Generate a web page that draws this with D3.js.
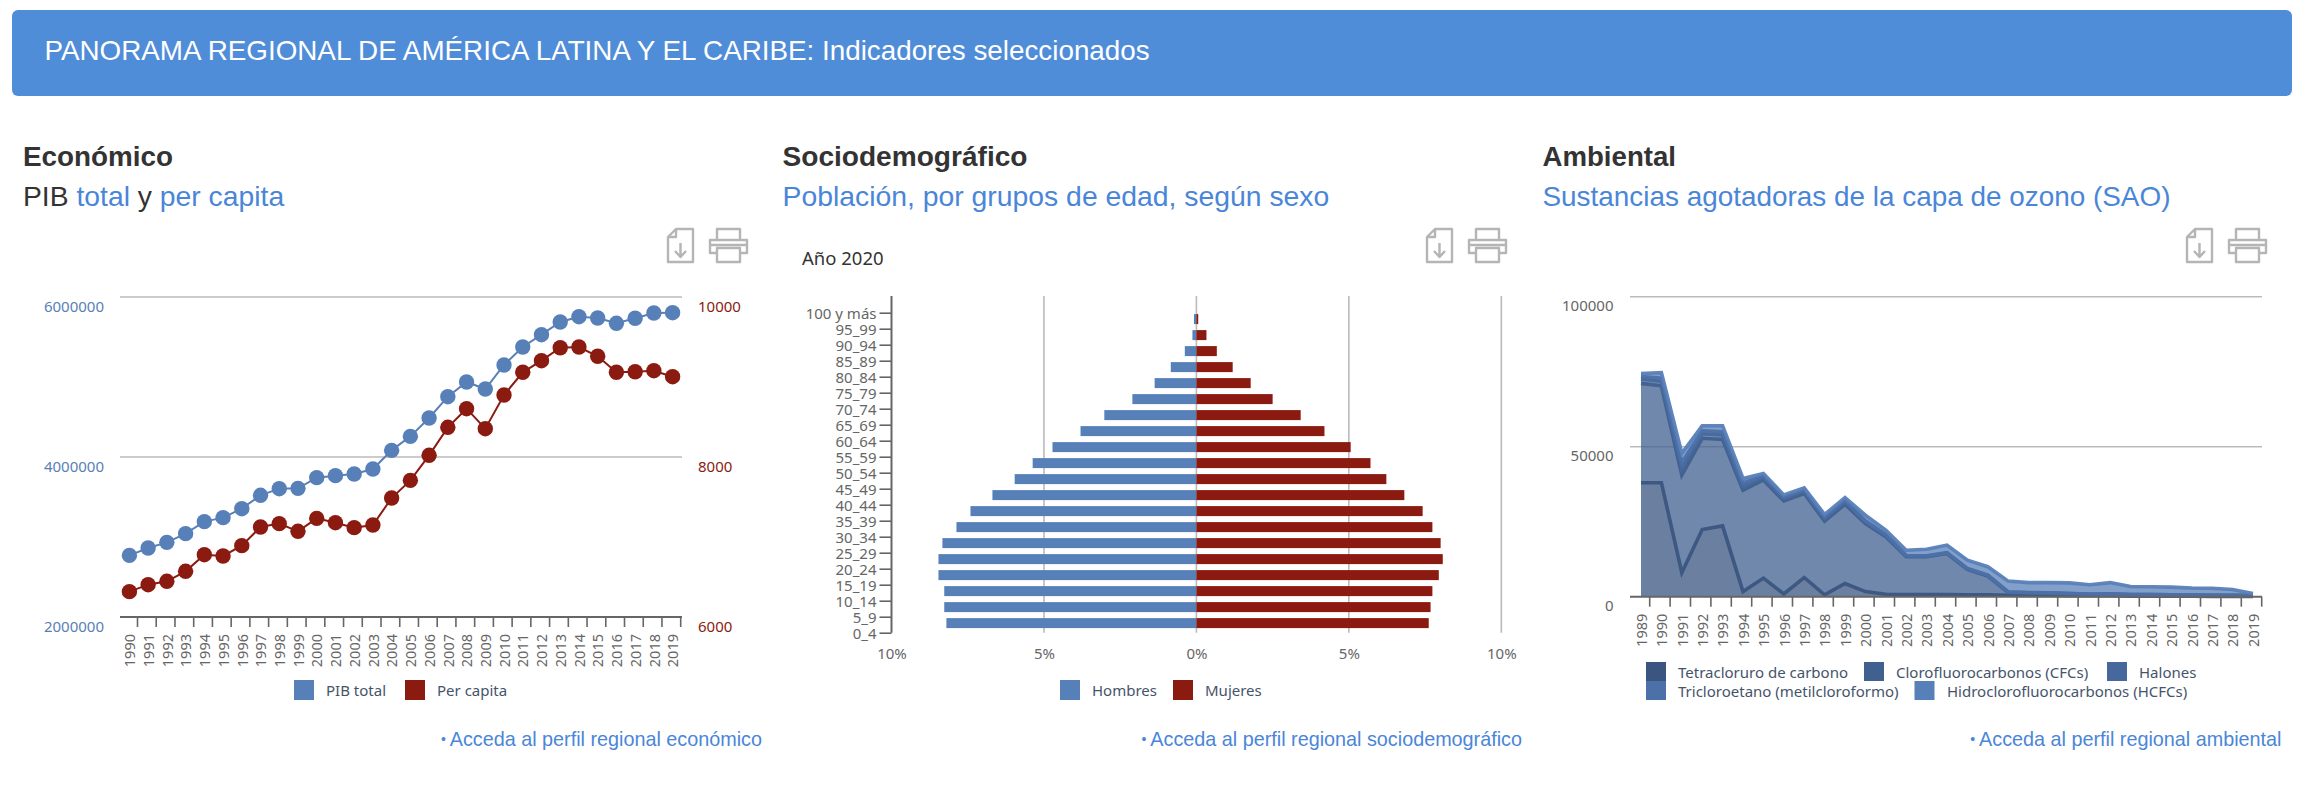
<!DOCTYPE html>
<html lang="es">
<head>
<meta charset="utf-8">
<title>Panorama regional</title>
<script src="https://cdn.jsdelivr.net/npm/d3@7"></script>
<style>
html,body{margin:0;padding:0;background:#fff;}
svg{display:block;}
.head{font-family:"Liberation Sans",Arial,sans-serif;}
.chart text{font-family:"Noto Sans",Tahoma,sans-serif;}
</style>
</head>
<body>
<script>
// chart 1
var years1=d3.range(1990,2020).map(String);
var pibTotal=[2770000,2862000,2933000,3042000,3192000,3242000,3354000,3521000,3604000,3608000,3742000,3767000,3788000,3850000,4083000,4258000,4488000,4754000,4938000,4850000,5150000,5375000,5529000,5687000,5754000,5737000,5671000,5734000,5800000,5804000];
var perCapita=[6317,6404,6446,6571,6779,6763,6892,7125,7167,7071,7233,7179,7117,7150,7487,7708,8021,8371,8604,8354,8775,9059,9204,9366,9375,9259,9059,9066,9079,9004];
// chart 2
var ageGroups=["100 y más","95_99","90_94","85_89","80_84","75_79","70_74","65_69","60_64","55_59","50_54","45_49","40_44","35_39","30_34","25_29","20_24","15_19","10_14","5_9","0_4"];
var hombres=[0.08,0.13,0.38,0.84,1.37,2.10,3.02,3.80,4.72,5.37,5.96,6.69,7.41,7.87,8.33,8.46,8.46,8.27,8.27,8.20];
var mujeres=[0.06,0.33,0.67,1.19,1.78,2.50,3.42,4.20,5.06,5.71,6.23,6.82,7.42,7.74,8.01,8.08,7.95,7.74,7.68,7.62];
var pctTicks=[-10,-5,0,5,10];
// chart 3
var years3=d3.range(1989,2020).map(String);
var tetracloruro=[38000,38000,8000,22400,23600,1700,6200,900,6400,600,4400,1700,800,700,700,700,600,600,500,400,400,300,300,300,200,200,200,200,100,100,100];
var cfcs=[33100,32300,32500,30400,28800,33800,32700,31000,28000,24600,26400,22700,19200,12600,12600,13700,8500,6300,900,800,700,600,400,500,400,400,300,300,300,300,200];
var halones=[1500,1500,2200,1500,1500,1400,900,800,800,800,800,600,500,300,200,200,200,200,100,100,100,100,100,100,100,100,100,100,100,100,100];
var tricloroetano=[800,1000,2000,1000,1100,1000,500,500,400,500,500,300,200,100,100,100,100,100,100,100,100,100,0,0,0,0,0,0,0,0,0];
var hcfcs=[1000,1900,3100,1700,2000,1500,800,700,700,900,900,1900,1500,1800,2200,2500,2800,2800,3600,3300,3400,3500,3200,3800,2700,2600,2600,2300,2300,1900,700];
var saoNames=["Tetracloruro de carbono","Clorofluorocarbonos (CFCs)","Halones","Tricloroetano (metilcloroformo)","Hidroclorofluorocarbonos (HCFCs)"];

var width=2322,height=790;
var blue="#5880b8",red="#8b1a10",grid="#bbbbbb",axisCol="#666666",legendCol="#44546a",linkCol="#4a86d8",ink="#333333";
var saoColors=["#3a5580","#406090","#46689c","#4c70a8","#5880b8"];

var svg=d3.select("body").append("svg").attr("width",width).attr("height",height);

// page header
svg.append("rect").attr("x",12).attr("y",10).attr("width",2280).attr("height",86).attr("rx",6).attr("fill","#508dd8");
svg.append("text").attr("class","head").attr("x",44.5).attr("y",60)
   .attr("font-size",27.8).attr("fill","#fff")
   .text("PANORAMA REGIONAL DE AMÉRICA LATINA Y EL CARIBE: Indicadores seleccionados");

function panelHead(x,title,titleLen,parts,subSize,iconX,link,linkEnd){
    svg.append("text").attr("class","head").attr("x",x).attr("y",165.5)
       .attr("font-size",27.5).attr("font-weight","bold").attr("fill",ink)
       .attr("textLength",titleLen).attr("lengthAdjust","spacingAndGlyphs").text(title);
    var sub=svg.append("text").attr("class","head").attr("x",x).attr("y",206).attr("font-size",subSize);
    parts.forEach(function(p){
        sub.append("tspan").attr("fill",p[1]?linkCol:ink).text(p[0]);
    });
    var a=svg.append("text").attr("class","head").attr("x",linkEnd).attr("y",746)
       .attr("text-anchor","end").attr("font-size",19.8).attr("fill",linkCol);
    a.append("tspan").attr("font-size",14).attr("dy",-2).text("• ");
    a.append("tspan").attr("dy",2).text(link);
    // download + print icons
    var ic=svg.append("g").attr("transform","translate("+iconX+",228)")
        .attr("fill","none").attr("stroke","#b5b5b5").attr("stroke-width",2.4).attr("stroke-linejoin","round");
    ic.append("path").attr("d","M9 1H26V34H1V9Z M9 1V9H1");
    ic.append("path").attr("d","M13.5 15V28 M8 23L13.5 29L19 23");
    ic.append("path").attr("d","M50 12V1H73V12 M50 25H43V12H80V25H73 M43 17H80 M50 20H73V34H50Z");
}

function legendItem(g,x,y,h,w,color,label,tx){
    g.append("rect").attr("x",x).attr("y",y).attr("width",w).attr("height",h).attr("fill",color);
    g.append("text").attr("x",tx).attr("y",y+h/2+1).attr("dy",".35em")
     .attr("font-size",15).attr("fill",legendCol).text(label);
}

// bottom axis with the ticks between the points and upright years
function yearAxis(g,xScale,yBase,left,right,tickOff){
    var ax=g.append("g").attr("transform","translate(0,"+yBase+")")
        .call(d3.axisBottom(xScale).tickSize(10).tickSizeOuter(0));
    ax.select(".domain").remove();
    ax.selectAll(".tick line").attr("x1",tickOff).attr("x2",tickOff).attr("stroke",axisCol).attr("stroke-width",1.6);
    ax.selectAll(".tick text").attr("transform","rotate(-90)")
      .attr("x",-17).attr("y",0).attr("dy",".36em").attr("text-anchor","end")
      .attr("font-size",14.5).attr("fill",axisCol);
    g.append("line").attr("x1",left).attr("x2",right).attr("y1",yBase).attr("y2",yBase)
     .attr("stroke",axisCol).attr("stroke-width",2);
}

function valueLabels(g,axis,x,color){
    var ax=g.append("g").attr("transform","translate("+x+",0)").call(axis);
    ax.select(".domain").remove();
    ax.selectAll(".tick line").remove();
    ax.selectAll(".tick text").attr("x",0).attr("dy",".35em")
      .attr("transform","translate(0,9)").attr("font-size",15).attr("fill",color);
}

// Economico
function drawEconomico(){
    panelHead(23,"Económico",150,[["PIB ",0],["total",1],[" y ",0],["per capita",1]],28.3,667,
              "Acceda al perfil regional económico",762);
    var g=svg.append("g").attr("class","chart");
    var x=d3.scalePoint().domain(years1).range([129.4,672.6]);
    var yL=d3.scaleLinear().domain([2000000,6000000]).range([617,297]);
    var yR=d3.scaleLinear().domain([6000,10000]).range([617,297]);
    [6000000,4000000].forEach(function(v){
        g.append("line").attr("x1",120).attr("x2",682).attr("y1",yL(v)).attr("y2",yL(v))
         .attr("stroke",grid).attr("stroke-width",1.6);
    });
    yearAxis(g,x,617,120,682,7.6);
    valueLabels(g,d3.axisLeft(yL).tickValues([2000000,4000000,6000000]).tickFormat(d3.format("d")).tickPadding(0),104,blue);
    valueLabels(g,d3.axisRight(yR).tickValues([6000,8000,10000]).tickFormat(d3.format("d")).tickPadding(0),698,red);

    function series(vals,y,color){
        var line=d3.line().x(function(d,i){return x(years1[i]);}).y(function(d){return y(d);});
        g.append("path").datum(vals).attr("d",line).attr("fill","none").attr("stroke",color).attr("stroke-width",2);
        g.selectAll(null).data(vals).enter().append("circle")
         .attr("cx",function(d,i){return x(years1[i]);})
         .attr("cy",function(d){return y(d);})
         .attr("r",7.7).attr("fill",color);
    }
    series(pibTotal,yL,blue);
    series(perCapita,yR,red);

    legendItem(g,294,680,20,20,blue,"PIB total",326);
    legendItem(g,405,680,20,20,red,"Per capita",437);
}

// Sociodemografico
function drawSocio(){
    panelHead(782.5,"Sociodemográfico",245,[["Población, por grupos de edad, según sexo",1]],28.35,1426,
              "Acceda al perfil regional sociodemográfico",1522);
    var g=svg.append("g").attr("class","chart");
    g.append("text").attr("x",802).attr("y",265).attr("font-size",18.5).attr("fill",ink).text("Año 2020");
    var x=d3.scaleLinear().domain([-10,10]).range([891.5,1501.3]);
    var y=d3.scalePoint().domain(ageGroups).range([312.7,632.7]);

    pctTicks.slice(1).forEach(function(v){
        g.append("line").attr("x1",x(v)).attr("x2",x(v)).attr("y1",296).attr("y2",632.7)
         .attr("stroke",grid).attr("stroke-width",1.6);
    });
    var ya=g.append("g").attr("transform","translate("+x(-10)+",0)")
        .call(d3.axisLeft(y).tickSize(12).tickSizeOuter(0).tickPadding(3));
    ya.select(".domain").remove();
    ya.selectAll(".tick line").attr("stroke",axisCol).attr("stroke-width",1.6);
    ya.selectAll(".tick text").attr("dy",".38em").attr("font-size",15).attr("fill",axisCol);
    g.append("line").attr("x1",x(-10)).attr("x2",x(-10)).attr("y1",296).attr("y2",632.7)
     .attr("stroke",axisCol).attr("stroke-width",2);

    var xa=g.append("g").attr("transform","translate(0,633)")
        .call(d3.axisBottom(x).tickValues(pctTicks).tickSize(0).tickPadding(0)
                .tickFormat(function(d){return Math.abs(d)+"%";}));
    xa.select(".domain").remove();
    xa.selectAll(".tick text").attr("y",21).attr("dy",".35em").attr("font-size",15).attr("fill",axisCol);

    g.selectAll(null).data(hombres).enter().append("rect")
     .attr("x",function(d){return x(-d);}).attr("y",function(d,i){return y(ageGroups[i])+1.4;})
     .attr("width",function(d){return x(0)-x(-d);}).attr("height",10).attr("fill",blue);
    g.selectAll(null).data(mujeres).enter().append("rect")
     .attr("x",x(0)).attr("y",function(d,i){return y(ageGroups[i])+1.4;})
     .attr("width",function(d){return x(d)-x(0);}).attr("height",10).attr("fill",red);

    legendItem(g,1060,680,20,20,blue,"Hombres",1092);
    legendItem(g,1173,680,20,20,red,"Mujeres",1205);
}

// Ambiental
function drawAmbiental(){
    panelHead(1542.5,"Ambiental",133.5,[["Sustancias agotadoras de la capa de ozono (SAO)",1]],27.9,2186,
              "Acceda al perfil regional ambiental",2281.5);
    var g=svg.append("g").attr("class","chart");
    var x=d3.scalePoint().domain(years3).range([1641,2253]);
    var y=d3.scaleLinear().domain([0,100000]).range([596.7,296.7]);
    [100000,50000].forEach(function(v){
        g.append("line").attr("x1",1630).attr("x2",2262).attr("y1",y(v)).attr("y2",y(v))
         .attr("stroke",grid).attr("stroke-width",1.6);
    });
    valueLabels(g,d3.axisLeft(y).tickValues([0,50000,100000]).tickFormat(d3.format("d")).tickPadding(0),1613.5,axisCol);

    var rows=years3.map(function(yr,i){
        return {year:yr,a:tetracloruro[i],b:cfcs[i],c:halones[i],d:tricloroetano[i],e:hcfcs[i]};
    });
    var layers=d3.stack().keys(["a","b","c","d","e"])(rows);
    var area=d3.area().x(function(d){return x(d.data.year);}).y0(function(d){return y(d[0]);}).y1(function(d){return y(d[1]);});
    var top=d3.line().x(function(d){return x(d.data.year);}).y(function(d){return y(d[1]);});
    g.selectAll(null).data(layers).enter().append("path")
     .attr("d",area).attr("fill",function(d,i){return saoColors[i];}).attr("fill-opacity",0.75);
    g.selectAll(null).data(layers).enter().append("path")
     .attr("d",top).attr("fill","none").attr("stroke",function(d,i){return saoColors[i];})
     .attr("stroke-width",3.6).attr("stroke-opacity",0.95);

    yearAxis(g,x,596.7,1630,2262,8.2);

    legendItem(g,1646,662,19,20,saoColors[0],saoNames[0],1678);
    legendItem(g,1864,662,19,20,saoColors[1],saoNames[1],1896);
    legendItem(g,2107,662,19,20,saoColors[2],saoNames[2],2139);
    legendItem(g,1646,681,19,20,saoColors[3],saoNames[3],1678);
    legendItem(g,1914.5,681,19,20,saoColors[4],saoNames[4],1947);
}

drawEconomico();
drawSocio();
drawAmbiental();
</script>
</body>
</html>
